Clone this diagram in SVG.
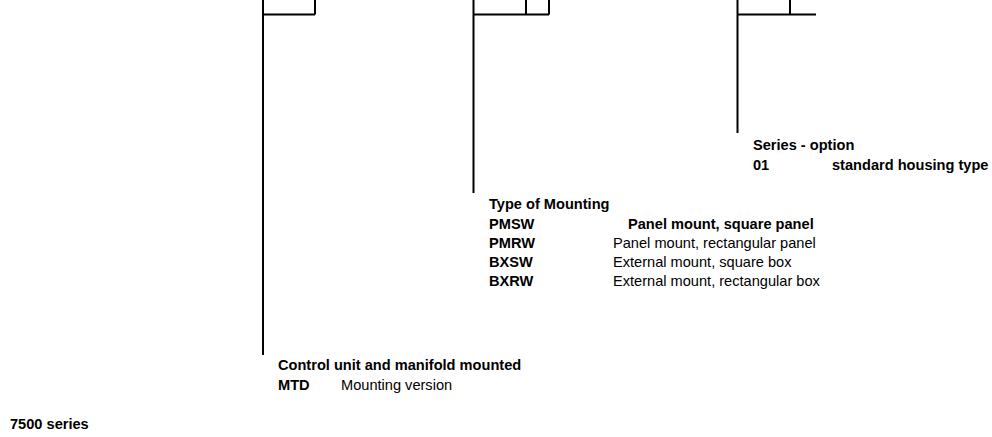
<svg xmlns="http://www.w3.org/2000/svg" width="992" height="437" viewBox="0 0 992 437">
<style>
.ln{stroke:#000;stroke-width:2;fill:none}
text{font-family:"Liberation Sans",Arial,Helvetica,sans-serif;font-size:14.6px;fill:#000}
.b{font-weight:bold}
</style>
<rect width="992" height="437" fill="#fff"/>
<g id="connectors">
<path class="ln" d="M263,0V355M262,14.5H315M315,0V14.5"/>
<path class="ln" d="M473.5,0V193M472.5,14.5H549M526,0V14.5M549,0V14.5"/>
<path class="ln" d="M737.5,0V133M736.5,14.5H816M790,0V14.5"/>
</g>
<g id="series-option">
<text class="b" x="753" y="150">Series - option</text>
<text class="b" x="753" y="169.5">01</text>
<text class="b" x="832" y="169.5">standard housing type</text>
</g>
<g id="type-of-mounting">
<text class="b" x="489" y="209">Type of Mounting</text>
<text class="b" x="489" y="228.5">PMSW</text>
<text class="b" x="628" y="228.5">Panel mount, square panel</text>
<text class="b" x="489" y="248">PMRW</text>
<text x="613" y="248">Panel mount, rectangular panel</text>
<text class="b" x="489" y="267">BXSW</text>
<text x="613" y="267">External mount, square box</text>
<text class="b" x="489" y="286">BXRW</text>
<text x="613" y="286">External mount, rectangular box</text>
</g>
<g id="control-unit">
<text class="b" x="278" y="370">Control unit and manifold mounted</text>
<text class="b" x="278" y="389.5">MTD</text>
<text x="341" y="389.5">Mounting version</text>
</g>
<g id="series-title">
<text class="b" x="10" y="429">7500 series</text>
</g>
</svg>
